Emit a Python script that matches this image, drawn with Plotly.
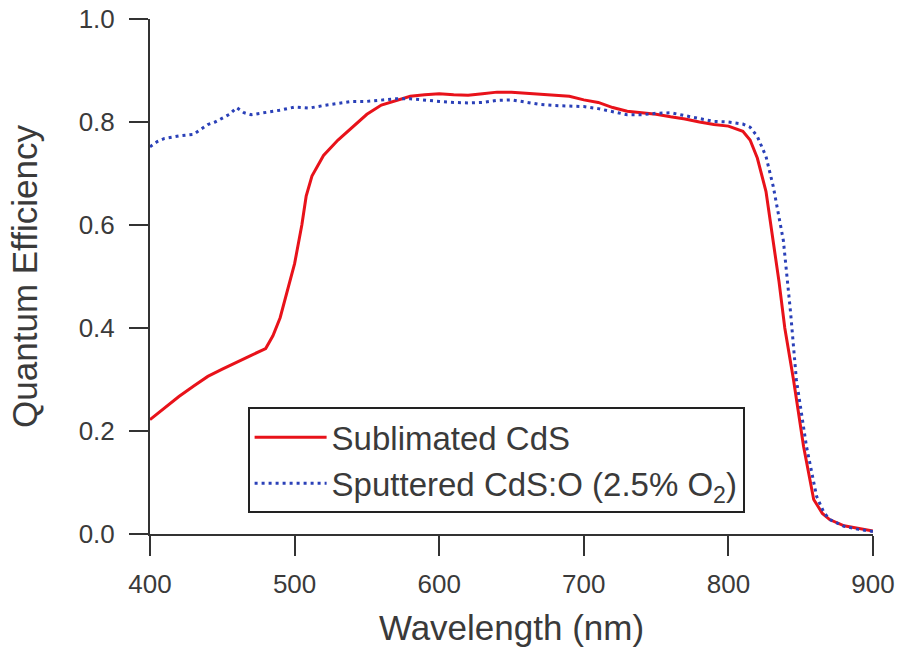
import plotly.graph_objects as go

# Sublimated CdS (red solid)
wl_sub = [400, 410, 420, 430, 440, 450, 460, 470, 480, 485, 490, 495, 500, 505, 508, 512,
          520, 530, 540, 550, 560, 570, 580, 590, 600, 610, 620, 630, 640, 650, 660, 670,
          680, 690, 700, 710, 720, 730, 740, 750, 760, 770, 780, 790, 800, 810, 815, 820,
          826, 831, 835, 839, 845, 852, 859, 865, 870, 880, 887, 900]
qe_sub = [0.222, 0.245, 0.267, 0.287, 0.306, 0.320, 0.334, 0.347, 0.360, 0.385, 0.420, 0.470,
          0.525, 0.600, 0.656, 0.695, 0.735, 0.765, 0.790, 0.815, 0.833, 0.841, 0.850, 0.853,
          0.855, 0.853, 0.852, 0.855, 0.858, 0.858, 0.856, 0.854, 0.852, 0.850, 0.843, 0.838,
          0.828, 0.821, 0.818, 0.815, 0.810, 0.806, 0.800, 0.795, 0.792, 0.782, 0.765, 0.730,
          0.665, 0.571, 0.490, 0.400, 0.300, 0.170, 0.067, 0.040, 0.028, 0.016, 0.012, 0.006]

# Sputtered CdS:O (blue dotted)
wl_spu = [400, 405, 410, 420, 430, 435, 440, 445, 450, 455, 460, 465, 470, 480, 490, 500,
          510, 520, 530, 540, 550, 560, 570, 580, 590, 600, 610, 620, 630, 640, 650, 660,
          670, 680, 690, 700, 710, 720, 730, 740, 750, 760, 770, 780, 790, 800, 810, 815,
          820, 826, 831, 838, 843, 847, 854, 861, 866, 870, 880, 890, 900]
qe_spu = [0.752, 0.762, 0.768, 0.773, 0.776, 0.785, 0.795, 0.800, 0.808, 0.815, 0.828, 0.818,
          0.814, 0.818, 0.823, 0.829, 0.827, 0.832, 0.836, 0.840, 0.840, 0.843, 0.845, 0.845,
          0.842, 0.840, 0.838, 0.837, 0.838, 0.842, 0.843, 0.838, 0.834, 0.832, 0.831, 0.830,
          0.826, 0.820, 0.814, 0.814, 0.817, 0.818, 0.812, 0.806, 0.801, 0.800, 0.796, 0.790,
          0.772, 0.733, 0.675, 0.570, 0.430, 0.300, 0.170, 0.073, 0.042, 0.028, 0.015, 0.009, 0.005]

x_ticks = [400, 500, 600, 700, 800, 900]
y_ticks = [0.0, 0.2, 0.4, 0.6, 0.8, 1.0]

FONT = "Liberation Sans, Arial, sans-serif"
AX = "#333333"
TXT = "#3a3a3a"

fig = go.Figure()
fig.add_trace(go.Scatter(x=wl_sub, y=qe_sub, mode="lines", name="Sublimated CdS",
                         line=dict(color="#e8121a", width=3)))
fig.add_trace(go.Scatter(x=wl_spu, y=qe_spu, mode="lines",
                         name="Sputtered CdS:O (2.5% O<sub>2</sub>)",
                         line=dict(color="#2a40b8", width=3, dash="3px,4px")))

fig.update_layout(
    width=899, height=651,
    margin=dict(l=150, r=26, t=19, b=117),
    plot_bgcolor="white", paper_bgcolor="white",
    font=dict(family=FONT, color=TXT),
    legend=dict(x=0.135, y=0.246, xanchor="left", yanchor="top",
                bordercolor="#222222", borderwidth=2, bgcolor="white",
                font=dict(size=33, family=FONT, color=TXT),
                itemwidth=72, tracegroupgap=0),
    showlegend=True,
)
fig.update_xaxes(range=[400, 900], tickvals=x_ticks, ticktext=[str(v) for v in x_ticks],
                 automargin=False,
                 ticks="outside", ticklen=20, tickwidth=2, tickcolor=AX,
                 showline=True, linewidth=2, linecolor=AX, showgrid=False, zeroline=False,
                 tickfont=dict(size=26, family=FONT, color=TXT), ticklabelstandoff=6,
                 title=dict(text="Wavelength (nm)", font=dict(size=35, family=FONT, color=TXT),
                            standoff=17))
fig.update_yaxes(range=[0, 1], tickvals=y_ticks, ticktext=[f"{v:.1f}" for v in y_ticks],
                 automargin=False,
                 ticks="outside", ticklen=19, tickwidth=2, tickcolor=AX,
                 showline=True, linewidth=2, linecolor=AX, showgrid=False, zeroline=False,
                 tickfont=dict(size=26, family=FONT, color=TXT), ticklabelstandoff=9,
                 title=dict(text="Quantum Efficiency", font=dict(size=35, family=FONT, color=TXT),
                            standoff=30))

fig.write_html("out.html")
